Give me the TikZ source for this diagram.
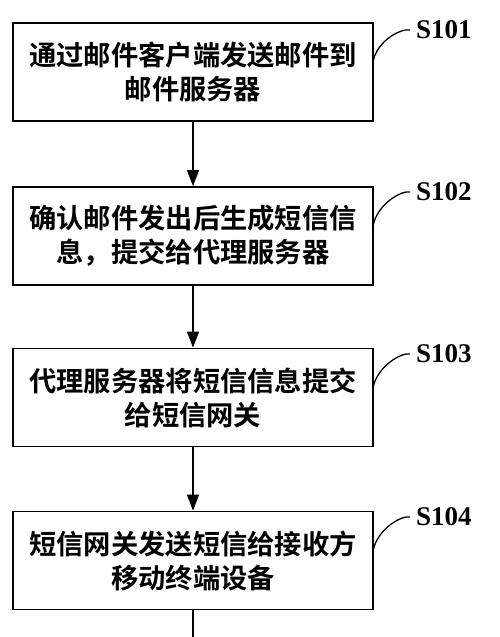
\documentclass[tikz,border=0pt]{standalone}
\usepackage{fontspec}
\setmainfont{Liberation Serif}
\newfontfamily\cjk{Noto Sans CJK SC Bold}
\usetikzlibrary{arrows.meta}
\tikzset{
  stepbox/.style={draw, line width=1.8pt, minimum width=360pt, minimum height=98pt,
    align=center, inner sep=0pt, font=\cjk\fontsize{27.3pt}{34pt}\selectfont},
  flow/.style={line width=1.4pt, -{Triangle[width=12pt,length=16pt]}},
  tag/.style={font=\bfseries\fontsize{27pt}{30pt}\selectfont, inner sep=0pt, anchor=west},
  leader/.style={line width=1.3pt}
}
\begin{document}
\begin{tikzpicture}
\useasboundingbox[fill=white] (0,0) rectangle (500pt,-637pt);
\node[stepbox] (b1) at (193pt,-72pt) {通过邮件客户端发送邮件到\\邮件服务器};
\node[stepbox] (b2) at (193pt,-236pt) {确认邮件发出后生成短信信\\息，提交给代理服务器};
\node[stepbox] (b3) at (193pt,-397.5pt) {代理服务器将短信信息提交\\给短信网关};
\node[stepbox] (b4) at (193pt,-560.5pt) {短信网关发送短信给接收方\\移动终端设备};
\coordinate (end) at (193pt,-640pt);
\draw[flow] (b1) -- (b2);
\draw[flow] (b2) -- (b3);
\draw[flow] (b3) -- (b4);
\draw[line width=1.4pt] (b4) -- (end);
\node[tag] (l1) at (416pt,-30pt) {S101};
\node[tag] (l2) at (416pt,-192pt) {S102};
\node[tag] (l3) at (416pt,-354pt) {S103};
\node[tag] (l4) at (416pt,-517pt) {S104};
\coordinate (a1) at (373pt,-62pt);
\coordinate (a2) at (373pt,-226pt);
\coordinate (a3) at (373pt,-388pt);
\coordinate (a4) at (373pt,-551pt);
\foreach \i in {1,2,3,4}{
  \draw[leader] (a\i) .. controls ([shift={(4pt,22pt)}]a\i) and ([shift={(-14pt,2pt)}]l\i.west) .. ([xshift=-6pt]l\i.west);
}
\end{tikzpicture}
\end{document}
